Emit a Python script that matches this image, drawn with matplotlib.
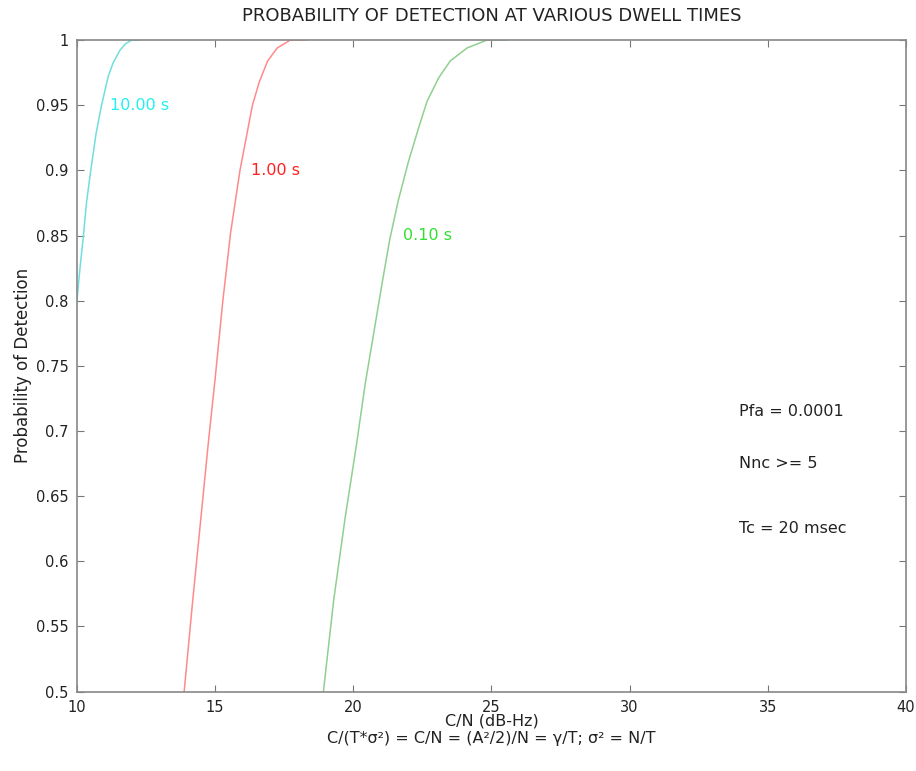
import numpy as np
import matplotlib
matplotlib.use("Agg")
import matplotlib.pyplot as plt

plt.rcParams['font.family'] = ['DejaVu Sans']

# curves: C/N (dB-Hz) vs probability of detection
cn_10s = [10.0, 10.11, 10.23, 10.35, 10.50, 10.69, 10.89, 11.13, 11.30, 11.55, 11.75, 11.98, 12.30]
pd_10s = [0.80, 0.825, 0.849, 0.876, 0.90, 0.928, 0.95, 0.972, 0.982, 0.992, 0.997, 1.0, 1.0]

cn_1s = [13.88, 14.19, 14.55, 14.75, 15.0, 15.28, 15.56, 15.90, 16.35, 16.60, 16.90, 17.25, 17.72, 18.30]
pd_1s = [0.50, 0.57, 0.647, 0.69, 0.74, 0.80, 0.852, 0.90, 0.95, 0.968, 0.984, 0.994, 1.0, 1.0]

cn_01s = [18.92, 19.29, 19.71, 20.12, 20.43, 20.74, 21.04, 21.32, 21.63, 22.0, 22.37, 22.67,
          23.09, 23.51, 24.12, 24.84, 25.57]
pd_01s = [0.50, 0.57, 0.634, 0.69, 0.736, 0.775, 0.813, 0.847, 0.877, 0.907, 0.933, 0.953,
          0.971, 0.984, 0.994, 1.0, 1.0]

labels = ['10.00 s', '1.00 s', '0.10 s']
label_x = [11.2, 16.3, 21.8]
label_y = [0.95, 0.90, 0.85]

notes = ['Pfa = 0.0001', 'Nnc >= 5', 'Tc = 20 msec']
note_y = [0.715, 0.675, 0.625]

fig = plt.figure(figsize=(9.16, 7.71), dpi=100)
ax = fig.add_axes([0.084, 0.103, 0.905, 0.845])

line_cols = ['#70dede', '#ff8a8a', '#8fd08f']
text_cols = ['#22f0f0', '#ff2020', '#30e030']

for (xs, ys), c in zip([(cn_10s, pd_10s), (cn_1s, pd_1s), (cn_01s, pd_01s)], line_cols):
    ax.plot(xs, ys, color=c, lw=1.1)

for t, x, y, c in zip(labels, label_x, label_y, text_cols):
    ax.text(x, y, t, color=c, fontsize=11.5, va='center', ha='left')

for t, y in zip(notes, note_y):
    ax.text(33.95, y, t, color='#222222', fontsize=11.5, va='center', ha='left')

ax.set_xlim(10, 40)
ax.set_ylim(0.5, 1)
ax.set_xticks(np.arange(10, 41, 5))
ax.set_yticks(np.arange(0.5, 1.001, 0.05))
ax.set_yticklabels(['0.5', '0.55', '0.6', '0.65', '0.7', '0.75', '0.8', '0.85', '0.9', '0.95', '1'])
ax.tick_params(direction='in', top=True, right=True, length=5, color='#777777',
               labelsize=10.5, labelcolor='#222222', pad=6)
for s in ax.spines.values():
    s.set_color('#888888')
    s.set_linewidth(1.2)

ax.set_title('PROBABILITY OF DETECTION AT VARIOUS DWELL TIMES', fontsize=13, color='#222222', pad=14)
ax.set_ylabel('Probability of Detection', fontsize=12, color='#222222', labelpad=3)
ax.set_xlabel('C/N (dB-Hz)\nC/(T*σ²) = C/N = (A²/2)/N = γ/T; σ² = N/T', fontsize=11.5,
              color='#222222', linespacing=1.2, labelpad=-1)

fig.savefig('out.png', dpi=100)
